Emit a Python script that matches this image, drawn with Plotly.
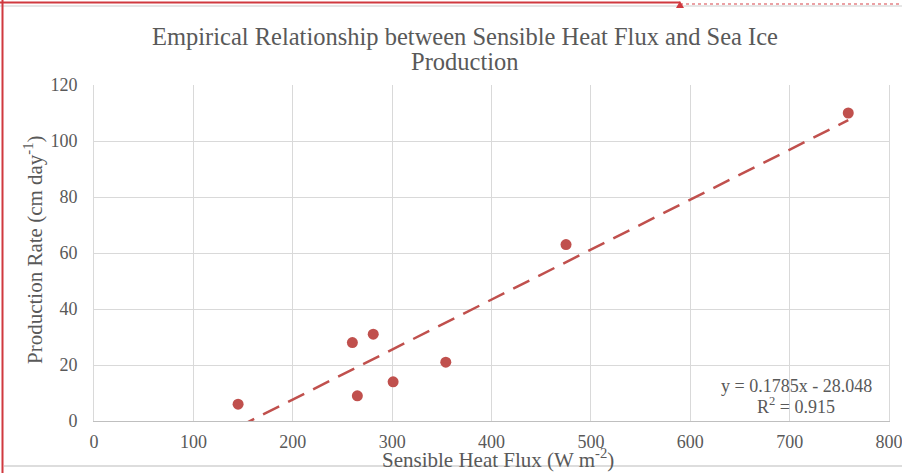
import plotly.graph_objects as go

# Observations: sensible heat flux (W m-2) vs. sea ice production rate (cm/day)
heat_flux = [145, 260, 265, 281, 301, 354, 475, 759]
production = [6, 28, 9, 31, 14, 21, 63, 110]

# Linear fit reported on the chart
slope = 0.1785
intercept = -28.048
r_squared = 0.915

x_ticks = [0, 100, 200, 300, 400, 500, 600, 700, 800]
y_ticks = [0, 20, 40, 60, 80, 100, 120]

title_lines = ["Empirical Relationship between Sensible Heat Flux and Sea Ice", "Production"]

W, H = 902, 473
L, R, T, B = 94, 13, 85, 52
FONT = "Liberation Serif"
GREY = "#595959"
RED = "#C0504D"


def px_x(px):
    return (px - L) / (W - L - R)


def px_y(py):
    return (H - B - py) / (H - T - B)


trend_x = [min(heat_flux), max(heat_flux)]
trend_y = [slope * v + intercept for v in trend_x]

fig = go.Figure()
fig.add_trace(go.Scatter(
    x=trend_x, y=trend_y, mode="lines",
    line=dict(color=RED, width=2.5, dash="18px,10px"),
    hoverinfo="skip", showlegend=False,
))
fig.add_trace(go.Scatter(
    x=heat_flux, y=production, mode="markers",
    marker=dict(color=RED, size=11),
    showlegend=False, cliponaxis=False,
))

fig.update_layout(
    width=W, height=H,
    margin=dict(l=L, r=R, t=T, b=B, autoexpand=False),
    paper_bgcolor="white", plot_bgcolor="white",
    font=dict(family=FONT, color=GREY, size=18),
    xaxis=dict(
        range=[0, 800], tickvals=x_ticks, ticktext=[str(v) for v in x_ticks],
        showgrid=True, gridcolor="#D9D9D9", gridwidth=1,
        showline=True, linecolor="#BFBFBF", linewidth=1,
        zeroline=False, ticks="", ticklabelstandoff=4, automargin=False,
        ticklabeloverflow="allow",
        tickfont=dict(size=18, color=GREY, family=FONT),
    ),
    yaxis=dict(
        range=[0, 120], tickvals=y_ticks, ticktext=[str(v) for v in y_ticks],
        showgrid=True, gridcolor="#D9D9D9", gridwidth=1,
        showline=True, linecolor="#D9D9D9", linewidth=1, mirror=True,
        zeroline=False, ticks="", ticklabelstandoff=12, automargin=False,
        ticklabeloverflow="allow",
        tickfont=dict(size=18, color=GREY, family=FONT),
    ),
)

annotations = [
    dict(text=title_lines[0],
         x=px_x(465), y=px_y(36), xref="paper", yref="paper",
         xanchor="center", yanchor="middle", showarrow=False,
         font=dict(size=24.5, color=GREY, family=FONT)),
    dict(text=title_lines[1],
         x=px_x(465), y=px_y(61), xref="paper", yref="paper",
         xanchor="center", yanchor="middle", showarrow=False,
         font=dict(size=24.5, color=GREY, family=FONT)),
    dict(text="Sensible Heat Flux (W m<sup>-2</sup>)",
         x=px_x(498), y=px_y(458), xref="paper", yref="paper",
         xanchor="center", yanchor="middle", showarrow=False,
         font=dict(size=21, color=GREY, family=FONT)),
    dict(text="Production Rate (cm day<sup>-1</sup>)",
         x=px_x(33), y=px_y(250), xref="paper", yref="paper",
         xanchor="center", yanchor="middle", showarrow=False, textangle=-90,
         font=dict(size=21, color=GREY, family=FONT)),
    dict(text=f"y = {slope}x - {abs(intercept)}",
         x=px_x(796), y=px_y(386), xref="paper", yref="paper",
         xanchor="center", yanchor="middle", showarrow=False,
         font=dict(size=18, color=GREY, family=FONT)),
    dict(text=f"R<sup>2</sup> = {r_squared}",
         x=px_x(796), y=px_y(405), xref="paper", yref="paper",
         xanchor="center", yanchor="middle", showarrow=False,
         font=dict(size=18, color=GREY, family=FONT)),
]
fig.update_layout(annotations=annotations)

# Window frame around the chart
shapes = [
    dict(type="line", xref="paper", yref="paper",
         x0=px_x(0), x1=px_x(680), y0=px_y(2.5), y1=px_y(2.5),
         line=dict(color="#D0393F", width=2)),
    dict(type="line", xref="paper", yref="paper",
         x0=px_x(680), x1=px_x(902), y0=px_y(4), y1=px_y(4),
         line=dict(color="#EBA1A4", width=2, dash="dot")),
    dict(type="line", xref="paper", yref="paper",
         x0=px_x(0), x1=px_x(902), y0=px_y(6), y1=px_y(6),
         line=dict(color="#E6E6E6", width=2)),
    dict(type="line", xref="paper", yref="paper",
         x0=px_x(2.5), x1=px_x(2.5), y0=px_y(0), y1=px_y(473),
         line=dict(color="#D0393F", width=2)),
    dict(type="line", xref="paper", yref="paper",
         x0=px_x(4), x1=px_x(902), y0=px_y(466), y1=px_y(466),
         line=dict(color="#DDDDDD", width=2)),
    dict(type="path", xref="paper", yref="paper",
         path=f"M {px_x(676)},{px_y(8)} L {px_x(684)},{px_y(8)} L {px_x(680)},{px_y(1)} Z",
         fillcolor="#D0393F", line=dict(width=0)),
]
fig.update_layout(shapes=shapes)

fig.write_html("out.html")
